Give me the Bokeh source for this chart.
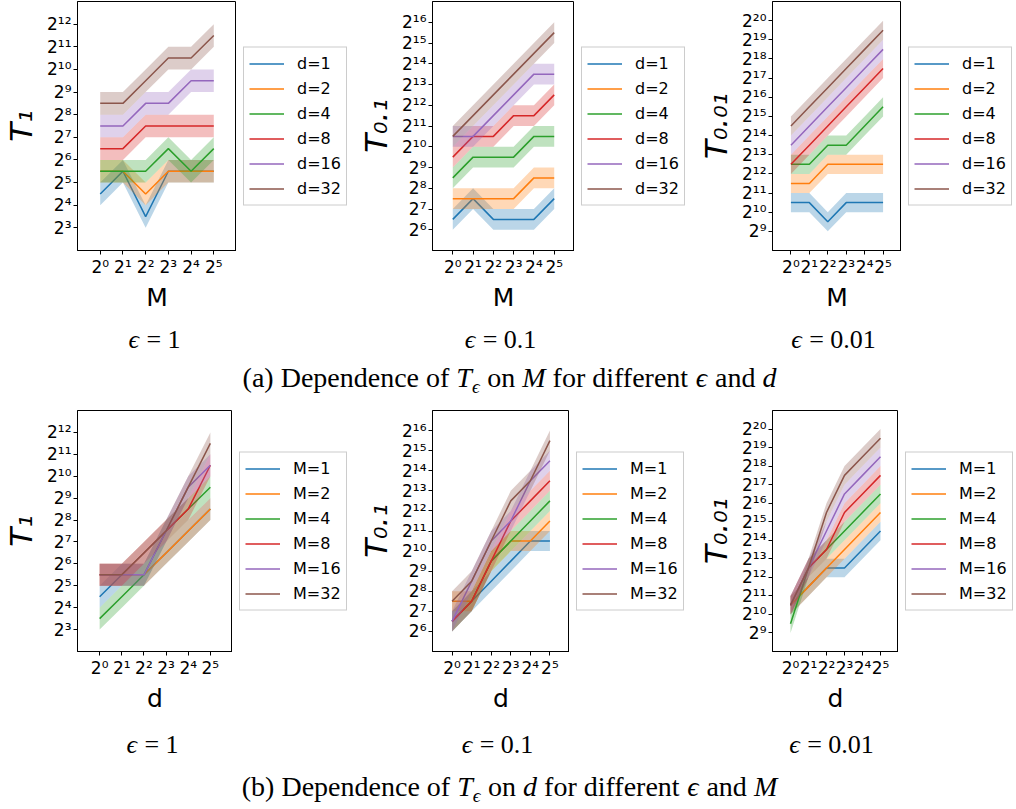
import numpy as np
from bokeh.plotting import figure
from bokeh.models import ColumnDataSource, Range1d, FixedTicker, Legend, LegendItem
from bokeh.layouts import column, row
from bokeh.embed import file_html
from bokeh.resources import INLINE
from bokeh.core.properties import value

# ---------------- data ----------------
grid_vals = [1, 2, 4, 8, 16, 32]          # values of M (panels a) and d (panels b)
d_labels = ["d=1", "d=2", "d=4", "d=8", "d=16", "d=32"]
M_labels = ["M=1", "M=2", "M=4", "M=8", "M=16", "M=32"]

# log2(T_eps); rows = d (1..32), columns = M (1..32)
T1_log2 = [
    [4.5, 5.5, 3.5, 5.5, 5.5, 5.5],
    [5.5, 5.5, 4.5, 5.5, 5.5, 5.5],
    [5.5, 5.5, 5.5, 6.5, 5.5, 6.5],
    [6.5, 6.5, 7.5, 7.5, 7.5, 7.5],
    [7.5, 7.5, 8.5, 8.5, 9.5, 9.5],
    [8.5, 8.5, 9.5, 10.5, 10.5, 11.5],
]
T01_log2 = [
    [6.5, 7.5, 6.5, 6.5, 6.5, 7.5],
    [7.5, 7.5, 7.5, 7.5, 8.5, 8.5],
    [8.5, 9.5, 9.5, 9.5, 10.5, 10.5],
    [9.5, 10.5, 10.5, 11.5, 11.5, 12.5],
    [10.5, 10.5, 11.5, 12.5, 13.5, 13.5],
    [10.5, 11.5, 12.5, 13.5, 14.5, 15.5],
]
T001_log2 = [
    [10.5, 10.5, 9.5, 10.5, 10.5, 10.5],
    [11.5, 11.5, 12.5, 12.5, 12.5, 12.5],
    [12.5, 12.5, 13.5, 13.5, 14.5, 15.5],
    [12.5, 13.5, 14.5, 15.5, 16.5, 17.5],
    [13.5, 14.5, 15.5, 16.5, 17.5, 18.5],
    [14.5, 15.5, 16.5, 17.5, 18.5, 19.5],
]

eps_texts = ["1", "0.1", "0.01"]
y_labels = ["T\u2081", "T\u2080.\u2081", "T\u2080.\u2080\u2081"]
y_ranges_log2 = [(2, 13), (5, 17), (8, 21)]
y_ticks_log2 = [list(range(3, 13)), list(range(6, 17)), list(range(9, 21))]
x_ticks_log2 = [0, 1, 2, 3, 4, 5]

colors = ["#1f77b4", "#ff7f0e", "#2ca02c", "#d62728", "#9467bd", "#8c564b"]

SUP = str.maketrans("0123456789", "\u2070\u00b9\u00b2\u00b3\u2074\u2075\u2076\u2077\u2078\u2079")


def pow2_label(k):
    return "2" + str(k).translate(SUP)


def make_panel(series, labels, xlab, ylab, yr, yt, L, fw, R, top, fh, bottom):
    H = top + fh + bottom
    p = figure(width=L + fw, height=H,
               x_axis_type="log", y_axis_type="log",
               x_range=Range1d(2 ** -1, 2 ** 6),
               y_range=Range1d(2 ** yr[0], 2 ** yr[1]),
               min_border_left=L, min_border_right=0,
               min_border_top=top, min_border_bottom=bottom,
               toolbar_location=None, output_backend="svg")
    p.title.visible = False
    for i, vals in enumerate(series):
        e = np.array(vals, dtype=float)
        src = ColumnDataSource(dict(x=grid_vals, y=2 ** e,
                                    lo=2 ** (e - 0.5), hi=2 ** (e + 0.5)))
        p.line("x", "y", source=src, line_color=colors[i], line_width=1.5)
        p.varea(x="x", y1="lo", y2="hi", source=src,
                fill_color=colors[i], fill_alpha=0.3)
    p.xgrid.visible = False
    p.ygrid.visible = False
    p.outline_line_color = "black"
    p.outline_line_alpha = 1
    p.outline_line_width = 1
    p.xaxis.ticker = FixedTicker(ticks=[2 ** k for k in x_ticks_log2])
    p.xaxis.major_label_overrides = {2 ** k: pow2_label(k) for k in x_ticks_log2}
    p.yaxis.ticker = FixedTicker(ticks=[2 ** k for k in yt])
    p.yaxis.major_label_overrides = {2 ** k: pow2_label(k) for k in yt}
    for ax in (p.xaxis[0], p.yaxis[0]):
        ax.axis_line_color = "black"
        ax.major_tick_line_color = "black"
        ax.major_tick_out = 4
        ax.major_tick_in = 0
        ax.minor_tick_line_color = None
        ax.major_label_text_font = "DejaVu Sans"
        ax.major_label_text_font_size = "17px"
        ax.major_label_text_color = "black"
        ax.major_label_standoff = 2
        ax.axis_label_text_font = "DejaVu Sans"
        ax.axis_label_text_color = "black"
    p.xaxis.axis_label = xlab
    p.xaxis.axis_label_text_font_size = "25px"
    p.xaxis.axis_label_text_font_style = "normal"
    p.xaxis.axis_label_standoff = 3
    p.yaxis.axis_label = ylab
    p.yaxis.axis_label_text_font_size = "31px"
    p.yaxis.axis_label_text_font_style = "italic"
    p.yaxis.axis_label_standoff = 5

    # legend panel beside the plot (its frame spans the same rows as the plot frame)
    q = figure(width=R, height=H, x_range=Range1d(0, 1), y_range=Range1d(0, 1),
               min_border_left=0, min_border_right=0,
               min_border_top=top, min_border_bottom=bottom,
               toolbar_location=None, output_backend="svg",
               x_axis_location=None, y_axis_location=None)
    q.title.visible = False
    q.outline_line_color = None
    q.xgrid.visible = False
    q.ygrid.visible = False
    items = []
    for i, lab in enumerate(labels):
        r = q.line(x=[float("nan")], y=[float("nan")], line_color=colors[i], line_width=1.5)
        items.append(LegendItem(label=lab, renderers=[r]))
    legend = Legend(items=items, location="center_left", margin=7,
                    padding=5, spacing=3, glyph_width=35, glyph_height=22,
                    label_height=22, label_standoff=13,
                    label_text_font="DejaVu Sans", label_text_font_size="16px",
                    label_text_color="black",
                    border_line_color="#cccccc", border_line_alpha=1,
                    background_fill_alpha=0.8)
    q.add_layout(legend)
    return row(p, q)


datasets = [T1_log2, T01_log2, T001_log2]
top_geom = [(72, 164, 119), (71, 148, 121), (68, 138, 115)]
bot_geom = [(72, 160, 123), (69, 145, 126), (68, 135, 118)]

top_figs = []
bot_figs = []
for k in range(3):
    Z = datasets[k]
    L, fw, R = top_geom[k]
    top_figs.append(make_panel(Z, d_labels, "M", y_labels[k], y_ranges_log2[k],
                               y_ticks_log2[k], L, fw, R, 1, 256, 57))
    ZT = [[Z[i][j] for i in range(6)] for j in range(6)]
    L, fw, R = bot_geom[k]
    bot_figs.append(make_panel(ZT, M_labels, "d", y_labels[k], y_ranges_log2[k],
                               y_ticks_log2[k], L, fw, R, 10, 248, 57))

# ---------------- captions ----------------
ROMAN = {' ': 250, '(': 333, ')': 333, 'a': 444, 'b': 500, 'c': 444, 'd': 500,
         'e': 444, 'f': 333, 'i': 278, 'n': 500, 'o': 500, 'p': 500, 'r': 333,
         't': 278, 'D': 722, 'M': 889, 'T': 611, '=': 564, '0': 500, '1': 500,
         '.': 250}
ITAL = {'T': 556, 'M': 833, 'd': 500, '\u03f5': 440}
MID = 0.34   # em offset from alphabetic baseline to the middle of the em box


def text_w(s, style, size):
    tab = ITAL if style == "italic" else ROMAN
    return sum(tab.get(ch, ROMAN.get(ch, 500)) for ch in s) / 1000.0 * size


def layout_pieces(pieces, cx, base):
    total = sum(text_w(t, st, sz) for t, st, sz, dy in pieces)
    cur = cx - total / 2
    xs, ys, txt, sty, siz = [], [], [], [], []
    for t, st, sz, dy in pieces:
        lead = len(t) - len(t.lstrip(" "))
        xs.append(cur + text_w(" " * lead, "normal", sz))
        ys.append(base + dy - MID * sz)
        txt.append(t.strip(" "))
        sty.append(st)
        siz.append(f"{sz}px")
        cur += text_w(t, st, sz)
    return xs, ys, txt, sty, siz


def caption_fig(h, eps_base, main_pieces, main_base, centers):
    p = figure(width=1016, height=h, x_range=Range1d(0, 1016), y_range=Range1d(h, 0),
               min_border=0, toolbar_location=None, output_backend="svg",
               x_axis_location=None, y_axis_location=None)
    p.title.visible = False
    p.outline_line_color = None
    p.xgrid.visible = False
    p.ygrid.visible = False
    X, Y, T, S, Z = [], [], [], [], []
    for c, e in zip(centers, eps_texts):
        pcs = [("\u03f5", "italic", 26, 0), (" = " + e, "normal", 26, 0)]
        for arr, new in zip((X, Y, T, S, Z), layout_pieces(pcs, c, eps_base)):
            arr.extend(new)
    for arr, new in zip((X, Y, T, S, Z), layout_pieces(main_pieces, 509, main_base)):
        arr.extend(new)
    src = ColumnDataSource(dict(x=X, y=Y, text=T, style=S, size=Z))
    p.text(x="x", y="y", text="text", source=src, text_font=value("Liberation Serif"),
           text_font_style="style", text_font_size="size", text_color="black",
           text_align="left", text_baseline="middle")
    return p


capA_pieces = [("(a) Dependence of ", "normal", 28, 0), ("T", "italic", 28, 0),
               ("\u03f5", "italic", 19, 5), (" on ", "normal", 28, 0), ("M", "italic", 28, 0),
               (" for different ", "normal", 28, 0), ("\u03f5", "italic", 28, 0),
               (" and ", "normal", 28, 0), ("d", "italic", 28, 0)]
capB_pieces = [("(b) Dependence of ", "normal", 28, 0), ("T", "italic", 28, 0),
               ("\u03f5", "italic", 19, 5), (" on ", "normal", 28, 0), ("d", "italic", 28, 0),
               (" for different ", "normal", 28, 0), ("\u03f5", "italic", 28, 0),
               (" and ", "normal", 28, 0), ("M", "italic", 28, 0)]

capA = caption_fig(86, 34, capA_pieces, 73, [154, 500, 833])
capB = caption_fig(94, 38, capB_pieces, 81, [152, 497, 831])

layout = column(row(*top_figs), capA, row(*bot_figs), capB)
open("out.html", "w").write(file_html(layout, INLINE))
